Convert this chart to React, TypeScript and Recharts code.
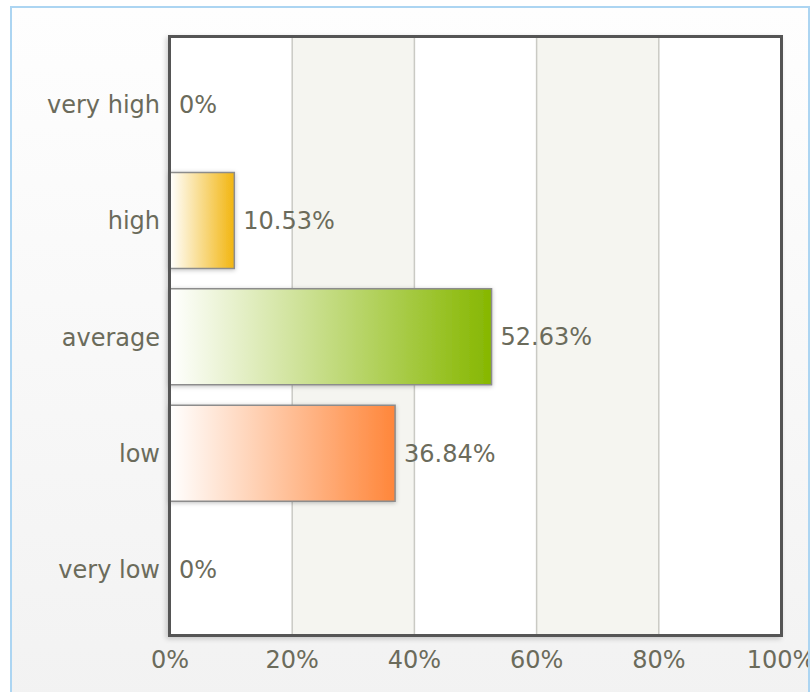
import { BarChart, Bar, XAxis, YAxis, CartesianGrid, Cell, LabelList, Rectangle } from 'recharts';

const categories = ['very high', 'high', 'average', 'low', 'very low'];
const shares = [0, 10.53, 52.63, 36.84, 0];
const xTicks = [0, 20, 40, 60, 80, 100];
// right-hand (saturated) end of each bar's gradient
const barColors = ['#f2b50f', '#f2b50f', '#86b700', '#ff863a', '#ff863a'];

const data = categories.map((name, i) => ({ name, value: shares[i] }));

const FONT = "'DejaVu Sans', Verdana, sans-serif";
const TEXT = '#6b6b5b';
const FRAME = '#555555';

const W = 811;
const H = 692;
const MARGIN = { top: 37, right: 30, bottom: 7, left: 20 };
const Y_AXIS_W = 150;
const X_AXIS_H = 50;
// plot rectangle, derived from the chart margins and axis sizes
const PLOT = {
  left: MARGIN.left + Y_AXIS_W,
  top: MARGIN.top,
  right: W - MARGIN.right,
  bottom: H - MARGIN.bottom - X_AXIS_H,
};

const pct = (v: number | string) => `${v}%`;

export default function App() {
  return (
    <div style={{ position: 'absolute', left: 0, top: 0, width: W, height: H, overflow: 'hidden', background: '#ffffff' }}>
      <div
        style={{
          position: 'absolute',
          left: 10,
          top: 6,
          width: 800,
          height: 700,
          boxSizing: 'border-box',
          border: '2px solid #acd5f2',
          overflow: 'hidden',
          background: 'linear-gradient(#fefefe, #f2f2f2)',
        }}
      >
        <div style={{ position: 'absolute', left: -12, top: -8 }}>
          <BarChart width={W} height={H} data={data} layout="vertical" margin={MARGIN}>
            <defs>
              {barColors.map((c, i) => (
                <linearGradient key={i} id={`barFill${i}`} x1="0" y1="0" x2="1" y2="0">
                  <stop offset="0%" stopColor="#ffffff" />
                  <stop offset="100%" stopColor={c} />
                </linearGradient>
              ))}
              <filter id="barShadow" x="-10%" y="-20%" width="120%" height="140%">
                <feDropShadow dx="0" dy="1" stdDeviation="2" floodColor="#000" floodOpacity="0.25" />
              </filter>
            </defs>
            <CartesianGrid
              horizontal={false}
              stroke="#cacac4"
              strokeWidth={1.5}
              verticalFill={['#ffffff', '#f5f5f0']}
              fillOpacity={1}
            />
            <XAxis
              type="number"
              domain={[0, 100]}
              ticks={xTicks}
              interval={0}
              tickFormatter={pct}
              height={X_AXIS_H}
              tickLine={false}
              tickSize={0}
              tickMargin={16}
              axisLine={false}
              tick={{ fill: TEXT, fontSize: 24, fontFamily: FONT }}
            />
            <YAxis
              type="category"
              dataKey="name"
              width={Y_AXIS_W}
              padding={{ top: 9, bottom: 7 }}
              tickLine={false}
              tickSize={0}
              tickMargin={10}
              axisLine={false}
              tick={{ fill: TEXT, fontSize: 24, fontFamily: FONT }}
            />
            <Bar
              dataKey="value"
              barSize={96}
              isAnimationActive={false}
              stroke="#8c8c8c"
              strokeWidth={1.5}
              shape={(props: any) => <Rectangle {...props} filter="url(#barShadow)" />}
            >
              {data.map((_, i) => (
                <Cell key={`cell-${i}`} fill={`url(#barFill${i})`} />
              ))}
              <LabelList
                dataKey="value"
                position="right"
                offset={9}
                formatter={pct}
                fill={TEXT}
                fontSize={24}
                fontFamily={FONT}
              />
            </Bar>
          </BarChart>
          {/* dark frame round the plot area */}
          <div
            style={{
              position: 'absolute',
              left: PLOT.left - 2,
              top: PLOT.top - 2,
              width: PLOT.right - PLOT.left + 4,
              height: PLOT.bottom - PLOT.top + 4,
              boxSizing: 'border-box',
              border: `3px solid ${FRAME}`,
              boxShadow: '-2px 2px 5px rgba(0,0,0,0.18)',
              pointerEvents: 'none',
            }}
          />
        </div>
      </div>
    </div>
  );
}
